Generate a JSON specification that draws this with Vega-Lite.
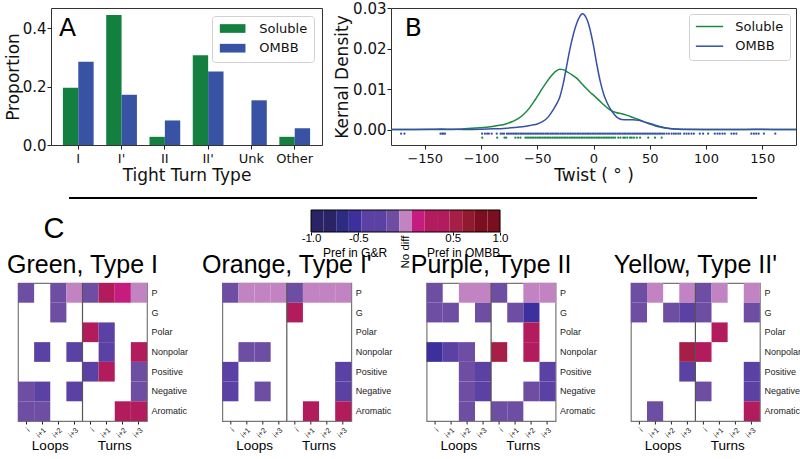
{
 "$schema": "https://vega.github.io/schema/vega-lite/v6.json",
 "background": "white",
 "padding": {"left": 3, "top": 0, "right": 0, "bottom": 0},
 "config": {
  "font": "Liberation Sans",
  "view": {"stroke": null},
  "axis": {"grid": false, "labelColor": "#111", "titleColor": "#111", "tickColor": "#222", "titleFontWeight": "normal", "domain": false},
  "title": {"fontWeight": "normal", "color": "#000"}
 },
 "datasets": {
  "bars": [
   {"type": "I", "group": "Soluble", "proportion": 0.196}, {"type": "I", "group": "OMBB", "proportion": 0.285},
   {"type": "I'", "group": "Soluble", "proportion": 0.445}, {"type": "I'", "group": "OMBB", "proportion": 0.172},
   {"type": "II", "group": "Soluble", "proportion": 0.028}, {"type": "II", "group": "OMBB", "proportion": 0.084},
   {"type": "II'", "group": "Soluble", "proportion": 0.307}, {"type": "II'", "group": "OMBB", "proportion": 0.252},
   {"type": "Unk", "group": "Soluble", "proportion": 0}, {"type": "Unk", "group": "OMBB", "proportion": 0.153},
   {"type": "Other", "group": "Soluble", "proportion": 0.028}, {"type": "Other", "group": "OMBB", "proportion": 0.057}
  ],
  "kde": [
   {"group": "Soluble", "twist": -180, "density": 0}, {"group": "Soluble", "twist": -140, "density": 0},
   {"group": "Soluble", "twist": -125, "density": 0.00005}, {"group": "Soluble", "twist": -115, "density": 0.0002},
   {"group": "Soluble", "twist": -105, "density": 0.0004}, {"group": "Soluble", "twist": -95, "density": 0.0006},
   {"group": "Soluble", "twist": -85, "density": 0.001}, {"group": "Soluble", "twist": -78, "density": 0.0014},
   {"group": "Soluble", "twist": -72, "density": 0.002}, {"group": "Soluble", "twist": -67, "density": 0.0027},
   {"group": "Soluble", "twist": -62, "density": 0.0038}, {"group": "Soluble", "twist": -57, "density": 0.0053},
   {"group": "Soluble", "twist": -52, "density": 0.0073}, {"group": "Soluble", "twist": -47, "density": 0.0095},
   {"group": "Soluble", "twist": -42, "density": 0.0116}, {"group": "Soluble", "twist": -38, "density": 0.0131},
   {"group": "Soluble", "twist": -34, "density": 0.0143}, {"group": "Soluble", "twist": -30, "density": 0.0149},
   {"group": "Soluble", "twist": -27, "density": 0.0148}, {"group": "Soluble", "twist": -23, "density": 0.0142},
   {"group": "Soluble", "twist": -19, "density": 0.0135}, {"group": "Soluble", "twist": -15, "density": 0.0127},
   {"group": "Soluble", "twist": -11, "density": 0.0115}, {"group": "Soluble", "twist": -7, "density": 0.0103},
   {"group": "Soluble", "twist": -3, "density": 0.0092}, {"group": "Soluble", "twist": 0, "density": 0.0085},
   {"group": "Soluble", "twist": 5, "density": 0.0072}, {"group": "Soluble", "twist": 10, "density": 0.0059},
   {"group": "Soluble", "twist": 15, "density": 0.0048}, {"group": "Soluble", "twist": 20, "density": 0.0042},
   {"group": "Soluble", "twist": 25, "density": 0.0039}, {"group": "Soluble", "twist": 30, "density": 0.0035},
   {"group": "Soluble", "twist": 35, "density": 0.003}, {"group": "Soluble", "twist": 40, "density": 0.0025},
   {"group": "Soluble", "twist": 45, "density": 0.0019}, {"group": "Soluble", "twist": 50, "density": 0.0014},
   {"group": "Soluble", "twist": 55, "density": 0.0009}, {"group": "Soluble", "twist": 60, "density": 0.0006},
   {"group": "Soluble", "twist": 67, "density": 0.0003}, {"group": "Soluble", "twist": 75, "density": 0.0001},
   {"group": "Soluble", "twist": 85, "density": 0.00003}, {"group": "Soluble", "twist": 100, "density": 0},
   {"group": "Soluble", "twist": 180, "density": 0},
   {"group": "OMBB", "twist": -180, "density": 0}, {"group": "OMBB", "twist": -160, "density": 0.00002},
   {"group": "OMBB", "twist": -145, "density": 0.00008}, {"group": "OMBB", "twist": -135, "density": 0.00015},
   {"group": "OMBB", "twist": -125, "density": 0.00006}, {"group": "OMBB", "twist": -115, "density": 0.00004},
   {"group": "OMBB", "twist": -100, "density": 0.0001}, {"group": "OMBB", "twist": -90, "density": 0.0002},
   {"group": "OMBB", "twist": -80, "density": 0.0003}, {"group": "OMBB", "twist": -70, "density": 0.0005},
   {"group": "OMBB", "twist": -60, "density": 0.0008}, {"group": "OMBB", "twist": -55, "density": 0.0011},
   {"group": "OMBB", "twist": -50, "density": 0.0014}, {"group": "OMBB", "twist": -45, "density": 0.002},
   {"group": "OMBB", "twist": -40, "density": 0.0032}, {"group": "OMBB", "twist": -36, "density": 0.0048},
   {"group": "OMBB", "twist": -33, "density": 0.0062}, {"group": "OMBB", "twist": -30, "density": 0.008},
   {"group": "OMBB", "twist": -27, "density": 0.0112}, {"group": "OMBB", "twist": -24, "density": 0.0155},
   {"group": "OMBB", "twist": -21, "density": 0.0198}, {"group": "OMBB", "twist": -18, "density": 0.0234},
   {"group": "OMBB", "twist": -15, "density": 0.0262}, {"group": "OMBB", "twist": -12, "density": 0.028},
   {"group": "OMBB", "twist": -10, "density": 0.0286}, {"group": "OMBB", "twist": -8, "density": 0.0283},
   {"group": "OMBB", "twist": -5, "density": 0.0266}, {"group": "OMBB", "twist": -2, "density": 0.0234},
   {"group": "OMBB", "twist": 0, "density": 0.0207}, {"group": "OMBB", "twist": 3, "density": 0.016},
   {"group": "OMBB", "twist": 6, "density": 0.0119}, {"group": "OMBB", "twist": 9, "density": 0.0088},
   {"group": "OMBB", "twist": 12, "density": 0.0067}, {"group": "OMBB", "twist": 15, "density": 0.0051},
   {"group": "OMBB", "twist": 18, "density": 0.0039}, {"group": "OMBB", "twist": 21, "density": 0.003},
   {"group": "OMBB", "twist": 25, "density": 0.0025}, {"group": "OMBB", "twist": 30, "density": 0.0024},
   {"group": "OMBB", "twist": 35, "density": 0.0024}, {"group": "OMBB", "twist": 40, "density": 0.0023},
   {"group": "OMBB", "twist": 45, "density": 0.0019}, {"group": "OMBB", "twist": 50, "density": 0.0015},
   {"group": "OMBB", "twist": 55, "density": 0.0011}, {"group": "OMBB", "twist": 60, "density": 0.0007},
   {"group": "OMBB", "twist": 65, "density": 0.0004}, {"group": "OMBB", "twist": 70, "density": 0.0002},
   {"group": "OMBB", "twist": 80, "density": 0.0001}, {"group": "OMBB", "twist": 100, "density": 0.00005},
   {"group": "OMBB", "twist": 120, "density": 0.00005}, {"group": "OMBB", "twist": 135, "density": 0.00003},
   {"group": "OMBB", "twist": 150, "density": 0.00008}, {"group": "OMBB", "twist": 165, "density": 0.00003},
   {"group": "OMBB", "twist": 180, "density": 0}
  ],
  "rug": [
   {"group": "OMBB", "twist": -171}, {"group": "OMBB", "twist": -168}, {"group": "OMBB", "twist": -136}, {"group": "OMBB", "twist": -134.5},
   {"group": "OMBB", "twist": -133.5}, {"group": "OMBB", "twist": -132}, {"group": "OMBB", "twist": -99}, {"group": "OMBB", "twist": -96.5},
   {"group": "OMBB", "twist": -94.5}, {"group": "OMBB", "twist": -93}, {"group": "OMBB", "twist": -90.5}, {"group": "OMBB", "twist": -86},
   {"group": "OMBB", "twist": -82.5}, {"group": "OMBB", "twist": -81}, {"group": "OMBB", "twist": -79.5}, {"group": "OMBB", "twist": -77},
   {"group": "OMBB", "twist": -75.6}, {"group": "OMBB", "twist": -74.1}, {"group": "OMBB", "twist": -72.5}, {"group": "OMBB", "twist": -71},
   {"group": "OMBB", "twist": -69.6}, {"group": "OMBB", "twist": -68.2}, {"group": "OMBB", "twist": -66.7}, {"group": "OMBB", "twist": -65.1},
   {"group": "OMBB", "twist": -63.6}, {"group": "OMBB", "twist": -62.2}, {"group": "OMBB", "twist": -60.7}, {"group": "OMBB", "twist": -59.1},
   {"group": "OMBB", "twist": -57.6}, {"group": "OMBB", "twist": -56.2}, {"group": "OMBB", "twist": -54.7}, {"group": "OMBB", "twist": -53.1},
   {"group": "OMBB", "twist": -51.6}, {"group": "OMBB", "twist": -50.2}, {"group": "OMBB", "twist": -48.7}, {"group": "OMBB", "twist": -47.2},
   {"group": "OMBB", "twist": -45.8}, {"group": "OMBB", "twist": -44.3}, {"group": "OMBB", "twist": -42.7}, {"group": "OMBB", "twist": -41.3},
   {"group": "OMBB", "twist": -39.8}, {"group": "OMBB", "twist": -38.2}, {"group": "OMBB", "twist": -36.8}, {"group": "OMBB", "twist": -35.3},
   {"group": "OMBB", "twist": -33.8}, {"group": "OMBB", "twist": -32.4}, {"group": "OMBB", "twist": -30.9}, {"group": "OMBB", "twist": -29.3},
   {"group": "OMBB", "twist": -27.8}, {"group": "OMBB", "twist": -26.4}, {"group": "OMBB", "twist": -24.9}, {"group": "OMBB", "twist": -23.3},
   {"group": "OMBB", "twist": -21.9}, {"group": "OMBB", "twist": -20.4}, {"group": "OMBB", "twist": -18.9}, {"group": "OMBB", "twist": -17.4},
   {"group": "OMBB", "twist": -15.9}, {"group": "OMBB", "twist": -14.4}, {"group": "OMBB", "twist": -13}, {"group": "OMBB", "twist": -11.5},
   {"group": "OMBB", "twist": -10}, {"group": "OMBB", "twist": -8.5}, {"group": "OMBB", "twist": -7}, {"group": "OMBB", "twist": -5.6},
   {"group": "OMBB", "twist": -4.1}, {"group": "OMBB", "twist": -2.6}, {"group": "OMBB", "twist": -1.1}, {"group": "OMBB", "twist": 0.4},
   {"group": "OMBB", "twist": 1.9}, {"group": "OMBB", "twist": 3.4}, {"group": "OMBB", "twist": 4.9}, {"group": "OMBB", "twist": 6.4},
   {"group": "OMBB", "twist": 7.8}, {"group": "OMBB", "twist": 9.3}, {"group": "OMBB", "twist": 10.8}, {"group": "OMBB", "twist": 12.3},
   {"group": "OMBB", "twist": 13.8}, {"group": "OMBB", "twist": 15.3}, {"group": "OMBB", "twist": 16.8}, {"group": "OMBB", "twist": 18.2},
   {"group": "OMBB", "twist": 19.7}, {"group": "OMBB", "twist": 21.2}, {"group": "OMBB", "twist": 22.7}, {"group": "OMBB", "twist": 24.2},
   {"group": "OMBB", "twist": 25.7}, {"group": "OMBB", "twist": 27.2}, {"group": "OMBB", "twist": 28.6}, {"group": "OMBB", "twist": 30.1},
   {"group": "OMBB", "twist": 31.6}, {"group": "OMBB", "twist": 33.1}, {"group": "OMBB", "twist": 34.6}, {"group": "OMBB", "twist": 36.1},
   {"group": "OMBB", "twist": 37.6}, {"group": "OMBB", "twist": 39}, {"group": "OMBB", "twist": 40.5}, {"group": "OMBB", "twist": 42},
   {"group": "OMBB", "twist": 43.5}, {"group": "OMBB", "twist": 45}, {"group": "OMBB", "twist": 46.5}, {"group": "OMBB", "twist": 48},
   {"group": "OMBB", "twist": 49.4}, {"group": "OMBB", "twist": 50.9}, {"group": "OMBB", "twist": 52.4}, {"group": "OMBB", "twist": 53.9},
   {"group": "OMBB", "twist": 55.4}, {"group": "OMBB", "twist": 56.9}, {"group": "OMBB", "twist": 58.4}, {"group": "OMBB", "twist": 59.8},
   {"group": "OMBB", "twist": 61.3}, {"group": "OMBB", "twist": 62.8}, {"group": "OMBB", "twist": 65}, {"group": "OMBB", "twist": 67},
   {"group": "OMBB", "twist": 69.4}, {"group": "OMBB", "twist": 71.4}, {"group": "OMBB", "twist": 73.2}, {"group": "OMBB", "twist": 75.3},
   {"group": "OMBB", "twist": 77.1}, {"group": "OMBB", "twist": 80.6}, {"group": "OMBB", "twist": 82.7}, {"group": "OMBB", "twist": 84.7},
   {"group": "OMBB", "twist": 87.1}, {"group": "OMBB", "twist": 89.2}, {"group": "OMBB", "twist": 94.5}, {"group": "OMBB", "twist": 97.4},
   {"group": "OMBB", "twist": 101.9}, {"group": "OMBB", "twist": 107.8}, {"group": "OMBB", "twist": 110.2}, {"group": "OMBB", "twist": 112.2},
   {"group": "OMBB", "twist": 114.6}, {"group": "OMBB", "twist": 116.7}, {"group": "OMBB", "twist": 122.6}, {"group": "OMBB", "twist": 124.8},
   {"group": "OMBB", "twist": 127}, {"group": "OMBB", "twist": 140.3}, {"group": "OMBB", "twist": 142.6}, {"group": "OMBB", "twist": 144.7},
   {"group": "OMBB", "twist": 146.8}, {"group": "OMBB", "twist": 151.5}, {"group": "OMBB", "twist": 161.6},
   {"group": "Soluble", "twist": -98.9}, {"group": "Soluble", "twist": -85.6}, {"group": "Soluble", "twist": -79.1}, {"group": "Soluble", "twist": -77.6},
   {"group": "Soluble", "twist": -69.4}, {"group": "Soluble", "twist": -67}, {"group": "Soluble", "twist": -64.9}, {"group": "Soluble", "twist": -60.5},
   {"group": "Soluble", "twist": -59}, {"group": "Soluble", "twist": -57.4}, {"group": "Soluble", "twist": -55.9}, {"group": "Soluble", "twist": -54.5},
   {"group": "Soluble", "twist": -53}, {"group": "Soluble", "twist": -51.4}, {"group": "Soluble", "twist": -49.9}, {"group": "Soluble", "twist": -48.4},
   {"group": "Soluble", "twist": -47}, {"group": "Soluble", "twist": -45.5}, {"group": "Soluble", "twist": -43.9}, {"group": "Soluble", "twist": -42.4},
   {"group": "Soluble", "twist": -40.9}, {"group": "Soluble", "twist": -39.5}, {"group": "Soluble", "twist": -38}, {"group": "Soluble", "twist": -36.4},
   {"group": "Soluble", "twist": -34.9}, {"group": "Soluble", "twist": -33.4}, {"group": "Soluble", "twist": -32}, {"group": "Soluble", "twist": -30.5},
   {"group": "Soluble", "twist": -28.9}, {"group": "Soluble", "twist": -27.4}, {"group": "Soluble", "twist": -25.9}, {"group": "Soluble", "twist": -24.5},
   {"group": "Soluble", "twist": -23}, {"group": "Soluble", "twist": -21.4}, {"group": "Soluble", "twist": -19.9}, {"group": "Soluble", "twist": -18.4},
   {"group": "Soluble", "twist": -17}, {"group": "Soluble", "twist": -15.5}, {"group": "Soluble", "twist": -13.9}, {"group": "Soluble", "twist": -12.4},
   {"group": "Soluble", "twist": -10.9}, {"group": "Soluble", "twist": -9.5}, {"group": "Soluble", "twist": -8}, {"group": "Soluble", "twist": -6.4},
   {"group": "Soluble", "twist": -4.9}, {"group": "Soluble", "twist": -3.4}, {"group": "Soluble", "twist": -2}, {"group": "Soluble", "twist": -0.5},
   {"group": "Soluble", "twist": 1.1}, {"group": "Soluble", "twist": 2.6}, {"group": "Soluble", "twist": 4.1}, {"group": "Soluble", "twist": 5.5},
   {"group": "Soluble", "twist": 7}, {"group": "Soluble", "twist": 8.6}, {"group": "Soluble", "twist": 10.1}, {"group": "Soluble", "twist": 11.6},
   {"group": "Soluble", "twist": 13}, {"group": "Soluble", "twist": 14.5}, {"group": "Soluble", "twist": 16.1}, {"group": "Soluble", "twist": 17.6},
   {"group": "Soluble", "twist": 19.2}, {"group": "Soluble", "twist": 22}, {"group": "Soluble", "twist": 24}, {"group": "Soluble", "twist": 26.5},
   {"group": "Soluble", "twist": 28}, {"group": "Soluble", "twist": 30}, {"group": "Soluble", "twist": 32.5}, {"group": "Soluble", "twist": 34},
   {"group": "Soluble", "twist": 36}, {"group": "Soluble", "twist": 38.5}, {"group": "Soluble", "twist": 41.4}, {"group": "Soluble", "twist": 48.7},
   {"group": "Soluble", "twist": 54.7}, {"group": "Soluble", "twist": 60.6}
  ],
  "cbar": [
   {"start": -1, "end": -0.8667, "mid": -0.9333}, {"start": -0.8667, "end": -0.7333, "mid": -0.8},
   {"start": -0.7333, "end": -0.6, "mid": -0.6667}, {"start": -0.6, "end": -0.4667, "mid": -0.5333},
   {"start": -0.4667, "end": -0.3333, "mid": -0.4}, {"start": -0.3333, "end": -0.2, "mid": -0.2667},
   {"start": -0.2, "end": -0.0667, "mid": -0.1333}, {"start": -0.0667, "end": 0.0667, "mid": 0},
   {"start": 0.0667, "end": 0.2, "mid": 0.1333}, {"start": 0.2, "end": 0.3333, "mid": 0.2667},
   {"start": 0.3333, "end": 0.4667, "mid": 0.4}, {"start": 0.4667, "end": 0.6, "mid": 0.5333},
   {"start": 0.6, "end": 0.7333, "mid": 0.6667}, {"start": 0.7333, "end": 0.8667, "mid": 0.8},
   {"start": 0.8667, "end": 1, "mid": 0.9333}
  ],
  "heat": [
   {"panel": "Green", "row": "P", "col": "Li", "value": -0.15}, {"panel": "Green", "row": "P", "col": "Li+2", "value": -0.15},
   {"panel": "Green", "row": "P", "col": "Li+3", "value": 0}, {"panel": "Green", "row": "P", "col": "Ti", "value": -0.15},
   {"panel": "Green", "row": "P", "col": "Ti+1", "value": 0.3}, {"panel": "Green", "row": "P", "col": "Ti+2", "value": 0.13},
   {"panel": "Green", "row": "P", "col": "Ti+3", "value": 0}, {"panel": "Green", "row": "G", "col": "Li+2", "value": -0.15},
   {"panel": "Green", "row": "Polar", "col": "Ti", "value": 0.3}, {"panel": "Green", "row": "Polar", "col": "Ti+1", "value": -0.3},
   {"panel": "Green", "row": "Nonpolar", "col": "Li+1", "value": -0.3}, {"panel": "Green", "row": "Nonpolar", "col": "Li+3", "value": -0.3},
   {"panel": "Green", "row": "Nonpolar", "col": "Ti+1", "value": -0.3}, {"panel": "Green", "row": "Nonpolar", "col": "Ti+3", "value": 0.3},
   {"panel": "Green", "row": "Positive", "col": "Ti", "value": -0.3}, {"panel": "Green", "row": "Positive", "col": "Ti+1", "value": 0.3},
   {"panel": "Green", "row": "Positive", "col": "Ti+3", "value": -0.15}, {"panel": "Green", "row": "Negative", "col": "Li", "value": -0.15},
   {"panel": "Green", "row": "Negative", "col": "Li+1", "value": -0.42}, {"panel": "Green", "row": "Negative", "col": "Li+3", "value": -0.3},
   {"panel": "Green", "row": "Negative", "col": "Ti+3", "value": -0.15}, {"panel": "Green", "row": "Aromatic", "col": "Li", "value": -0.15},
   {"panel": "Green", "row": "Aromatic", "col": "Li+1", "value": -0.15}, {"panel": "Green", "row": "Aromatic", "col": "Ti+2", "value": 0.3},
   {"panel": "Green", "row": "Aromatic", "col": "Ti+3", "value": 0.3},
   {"panel": "Orange", "row": "P", "col": "Li", "value": -0.15}, {"panel": "Orange", "row": "P", "col": "Li+1", "value": 0},
   {"panel": "Orange", "row": "P", "col": "Li+2", "value": 0}, {"panel": "Orange", "row": "P", "col": "Li+3", "value": 0},
   {"panel": "Orange", "row": "P", "col": "Ti", "value": -0.15}, {"panel": "Orange", "row": "P", "col": "Ti+1", "value": 0},
   {"panel": "Orange", "row": "P", "col": "Ti+2", "value": 0}, {"panel": "Orange", "row": "P", "col": "Ti+3", "value": 0},
   {"panel": "Orange", "row": "G", "col": "Ti", "value": 0.3}, {"panel": "Orange", "row": "Nonpolar", "col": "Li+1", "value": -0.15},
   {"panel": "Orange", "row": "Nonpolar", "col": "Li+2", "value": -0.15}, {"panel": "Orange", "row": "Positive", "col": "Li", "value": -0.3},
   {"panel": "Orange", "row": "Positive", "col": "Ti+3", "value": -0.3}, {"panel": "Orange", "row": "Negative", "col": "Li", "value": -0.3},
   {"panel": "Orange", "row": "Negative", "col": "Li+2", "value": -0.15}, {"panel": "Orange", "row": "Negative", "col": "Ti+3", "value": -0.3},
   {"panel": "Orange", "row": "Aromatic", "col": "Ti+1", "value": 0.3}, {"panel": "Orange", "row": "Aromatic", "col": "Ti+3", "value": 0.3},
   {"panel": "Purple", "row": "P", "col": "Li", "value": -0.15}, {"panel": "Purple", "row": "P", "col": "Li+2", "value": 0},
   {"panel": "Purple", "row": "P", "col": "Li+3", "value": 0}, {"panel": "Purple", "row": "P", "col": "Ti", "value": -0.15},
   {"panel": "Purple", "row": "P", "col": "Ti+2", "value": 0}, {"panel": "Purple", "row": "P", "col": "Ti+3", "value": 0},
   {"panel": "Purple", "row": "G", "col": "Li", "value": -0.15}, {"panel": "Purple", "row": "G", "col": "Li+1", "value": -0.15},
   {"panel": "Purple", "row": "G", "col": "Li+3", "value": -0.15}, {"panel": "Purple", "row": "G", "col": "Ti+1", "value": -0.15},
   {"panel": "Purple", "row": "G", "col": "Ti+2", "value": -0.55}, {"panel": "Purple", "row": "Polar", "col": "Ti+2", "value": 0.3},
   {"panel": "Purple", "row": "Nonpolar", "col": "Li", "value": -0.55}, {"panel": "Purple", "row": "Nonpolar", "col": "Li+1", "value": -0.42},
   {"panel": "Purple", "row": "Nonpolar", "col": "Li+2", "value": -0.15}, {"panel": "Purple", "row": "Nonpolar", "col": "Ti", "value": 0.55},
   {"panel": "Purple", "row": "Nonpolar", "col": "Ti+2", "value": 0.3}, {"panel": "Purple", "row": "Positive", "col": "Li+2", "value": -0.15},
   {"panel": "Purple", "row": "Positive", "col": "Li+3", "value": -0.3}, {"panel": "Purple", "row": "Positive", "col": "Ti+3", "value": -0.3},
   {"panel": "Purple", "row": "Negative", "col": "Li+2", "value": -0.15}, {"panel": "Purple", "row": "Negative", "col": "Li+3", "value": -0.3},
   {"panel": "Purple", "row": "Negative", "col": "Ti+2", "value": -0.15}, {"panel": "Purple", "row": "Negative", "col": "Ti+3", "value": -0.3},
   {"panel": "Purple", "row": "Aromatic", "col": "Li+2", "value": -0.15}, {"panel": "Purple", "row": "Aromatic", "col": "Ti", "value": -0.15},
   {"panel": "Purple", "row": "Aromatic", "col": "Ti+1", "value": -0.15},
   {"panel": "Yellow", "row": "P", "col": "Li", "value": -0.15}, {"panel": "Yellow", "row": "P", "col": "Li+1", "value": 0},
   {"panel": "Yellow", "row": "P", "col": "Li+3", "value": 0}, {"panel": "Yellow", "row": "P", "col": "Ti", "value": -0.15},
   {"panel": "Yellow", "row": "P", "col": "Ti+1", "value": 0}, {"panel": "Yellow", "row": "P", "col": "Ti+3", "value": 0},
   {"panel": "Yellow", "row": "G", "col": "Li", "value": -0.15}, {"panel": "Yellow", "row": "G", "col": "Li+2", "value": -0.15},
   {"panel": "Yellow", "row": "G", "col": "Li+3", "value": -0.3}, {"panel": "Yellow", "row": "G", "col": "Ti", "value": -0.15},
   {"panel": "Yellow", "row": "G", "col": "Ti+3", "value": -0.15}, {"panel": "Yellow", "row": "Polar", "col": "Ti+1", "value": 0.3},
   {"panel": "Yellow", "row": "Nonpolar", "col": "Li+3", "value": 0.55}, {"panel": "Yellow", "row": "Nonpolar", "col": "Ti", "value": 0.3},
   {"panel": "Yellow", "row": "Positive", "col": "Li+3", "value": -0.3}, {"panel": "Yellow", "row": "Positive", "col": "Ti+3", "value": -0.3},
   {"panel": "Yellow", "row": "Negative", "col": "Ti", "value": -0.15}, {"panel": "Yellow", "row": "Negative", "col": "Ti+3", "value": -0.3},
   {"panel": "Yellow", "row": "Aromatic", "col": "Li+1", "value": -0.15}, {"panel": "Yellow", "row": "Aromatic", "col": "Ti+3", "value": 0.3}
  ],
  "parts": [{"label": "Loops", "anchor": "Li+2"}, {"label": "Turns", "anchor": "Ti+2"}]
 },
 "resolve": {"scale": {"color": "independent"}, "legend": {"color": "independent"}},
 "spacing": -17,
 "align": "none",
 "vconcat": [
  {
   "bounds": "flush",
   "spacing": 32,
   "resolve": {"scale": {"color": "independent"}, "legend": {"color": "independent"}},
   "hconcat": [
    {"width": 1, "height": 1, "data": {"values": []}, "mark": {"type": "point", "opacity": 0}},
    {
     "bounds": "flush",
     "spacing": 69,
     "resolve": {"scale": {"color": "independent"}, "legend": {"color": "independent"}},
     "hconcat": [
      {
       "width": 271, "height": 137,
       "view": {"stroke": "#333", "strokeWidth": 1},
       "layer": [
        {
         "data": {"name": "bars"},
         "mark": {"type": "bar"},
         "encoding": {
          "x": {"field": "type", "type": "nominal", "scale": {"domain": ["I", "I'", "II", "II'", "Unk", "Other"], "paddingInner": 0.29, "paddingOuter": 0.275},
                "axis": {"title": "Tight Turn Type", "labelAngle": 0, "labelFont": "DejaVu Sans", "titleFont": "DejaVu Sans", "labelFontSize": 13, "titleFontSize": 17, "tickSize": 4, "labelPadding": 3, "titlePadding": 2}},
          "xOffset": {"field": "group", "type": "nominal", "scale": {"domain": ["Soluble", "OMBB"], "paddingInner": 0, "paddingOuter": 0}},
          "y": {"field": "proportion", "type": "quantitative", "scale": {"domain": [0, 0.469], "nice": false},
                "axis": {"title": "Proportion", "values": [0, 0.1, 0.2, 0.3, 0.4], "format": ".1f", "labelFont": "DejaVu Sans", "titleFont": "DejaVu Sans", "labelFontSize": 15, "titleFontSize": 17, "tickSize": 4, "labelPadding": 1, "titlePadding": 0}},
          "color": {"field": "group", "type": "nominal", "scale": {"domain": ["Soluble", "OMBB"], "range": ["#138040", "#3953a4"]},
                    "legend": {"title": null, "orient": "top-right", "offset": 8, "labelFont": "DejaVu Sans", "labelFontSize": 13, "labelColor": "#111",
                               "symbolType": "M-1.07,-1H4.82V1H-1.07Z", "symbolSize": 75.7, "symbolStrokeWidth": 0, "labelOffset": 28.3, "rowPadding": 5.7,
                               "padding": 6, "strokeColor": "#d0d0d0", "fillColor": "white", "cornerRadius": 3}}
         }
        },
        {
         "data": {"values": [{"label": "A"}]},
         "mark": {"type": "text", "font": "DejaVu Sans", "fontSize": 25, "align": "left", "baseline": "alphabetic", "dx": -4, "color": "#000"},
         "encoding": {"x": {"datum": "I", "bandPosition": 0}, "y": {"datum": 0.373}, "text": {"field": "label"}}
        }
       ]
      },
      {
       "width": 405, "height": 137,
       "view": {"stroke": "#333", "strokeWidth": 1},
       "layer": [
        {
         "data": {"name": "kde"},
         "mark": {"type": "line", "strokeWidth": 1.5, "interpolate": "monotone", "clip": true},
         "encoding": {
          "x": {"field": "twist", "type": "quantitative", "scale": {"domain": [-180, 180], "nice": false, "zero": false},
                "axis": {"title": "Twist ( ° )", "values": [-150, -100, -50, 0, 50, 100, 150], "labelFont": "DejaVu Sans", "titleFont": "DejaVu Sans", "labelFontSize": 13, "titleFontSize": 17, "tickSize": 4, "labelPadding": 3, "titlePadding": 2, "labelFlush": false}},
          "y": {"field": "density", "type": "quantitative", "scale": {"domain": [-0.0038, 0.03], "nice": false, "zero": false},
                "axis": {"title": "Kernal Density", "values": [0, 0.01, 0.02, 0.03], "format": ".2f", "labelFont": "DejaVu Sans", "titleFont": "DejaVu Sans", "labelFontSize": 15, "titleFontSize": 17, "tickSize": 4, "labelPadding": 1, "titlePadding": 1}},
          "color": {"field": "group", "type": "nominal", "scale": {"domain": ["Soluble", "OMBB"], "range": ["#1a8a40", "#3550a8"]},
                    "legend": {"title": null, "orient": "top-right", "offset": 6, "labelFont": "DejaVu Sans", "labelFontSize": 13, "labelColor": "#111",
                               "symbolType": "M-1.3,0H4.98", "symbolSize": 75.7, "symbolStrokeWidth": 1.5, "labelOffset": 27.3, "rowPadding": 5.7,
                               "padding": 6, "strokeColor": "#d0d0d0", "fillColor": "white", "cornerRadius": 3}}
         }
        },
        {
         "data": {"name": "rug"},
         "transform": [{"filter": "datum.group == 'OMBB'"}],
         "mark": {"type": "point", "filled": true, "size": 5, "color": "#3550a8", "opacity": 1},
         "encoding": {"x": {"field": "twist", "type": "quantitative"}, "y": {"datum": -0.001}}
        },
        {
         "data": {"name": "rug"},
         "transform": [{"filter": "datum.group == 'Soluble'"}],
         "mark": {"type": "point", "filled": true, "size": 5, "color": "#1a8a40", "opacity": 1},
         "encoding": {"x": {"field": "twist", "type": "quantitative"}, "y": {"datum": -0.002}}
        },
        {
         "data": {"values": [{"label": "B"}]},
         "mark": {"type": "text", "font": "DejaVu Sans", "fontSize": 25, "align": "left", "baseline": "alphabetic", "color": "#000"},
         "encoding": {"x": {"datum": -167.7}, "y": {"datum": 0.02317}, "text": {"field": "label"}}
        }
       ]
      }
     ]
    }
   ]
  },
  {
   "width": 778, "height": 65,
   "view": {"stroke": null},
   "layer": [
    {
     "data": {"name": "cbar"},
     "mark": {"type": "rect"},
     "encoding": {
      "x": {"field": "start", "type": "quantitative", "scale": {"domain": [-4.101, 4.132], "nice": false, "zero": false},
            "axis": {"values": [-1, -0.5, 0.5, 1], "labelExpr": "replace(format(datum.value, '.1f'), '\u2212', '-')", "labelFont": "Liberation Sans", "labelFontSize": 11.5, "labelColor": "#000", "tickColor": "#000", "tickSize": 3, "labelPadding": -3, "title": null, "labelFlush": false}},
      "x2": {"field": "end"},
      "y": {"datum": 0, "type": "quantitative", "scale": {"domain": [0, 65], "nice": false, "zero": false}, "axis": null},
      "y2": {"datum": 22},
      "color": {"field": "mid", "type": "quantitative", "legend": null,
                "scale": {"type": "quantize", "domain": [-1, 1], "nice": false, "zero": false,
                          "range": ["#2a2466", "#2a2466", "#2e2c82", "#3d309c", "#5a41a3", "#5a41a3", "#6e4ea3", "#c283c2", "#c61c80", "#b21c5d", "#b21c5d", "#a51f47", "#911a2f", "#7c0f1f", "#7c0f1f"]}}
     }
    },
    {
     "data": {"values": [{}]},
     "mark": {"type": "rect", "fill": null, "stroke": "#000", "strokeWidth": 1},
     "encoding": {"x": {"datum": -1}, "x2": {"datum": 1}, "y": {"datum": 0}, "y2": {"datum": 22}}
    },
    {
     "data": {"values": [{}]},
     "mark": {"type": "rule", "color": "#000", "strokeWidth": 2},
     "encoding": {"x": {"datum": -3.561}, "x2": {"datum": 3.72}, "y": {"datum": 34}}
    },
    {
     "data": {"values": [{"label": "C"}]},
     "mark": {"type": "text", "font": "Liberation Sans", "fontSize": 29, "align": "center", "baseline": "middle", "color": "#000"},
     "encoding": {"x": {"datum": -3.72}, "y": {"datum": 3}, "text": {"field": "label"}}
    },
    {
     "data": {"values": [{"label": "Pref in G&R"}]},
     "mark": {"type": "text", "font": "Liberation Sans", "fontSize": 12, "align": "center", "baseline": "middle", "color": "#000"},
     "encoding": {"x": {"datum": -0.534}, "y": {"datum": -21}, "text": {"field": "label"}}
    },
    {
     "data": {"values": [{"label": "Pref in OMBB"}]},
     "mark": {"type": "text", "font": "Liberation Sans", "fontSize": 12, "align": "center", "baseline": "middle", "color": "#000"},
     "encoding": {"x": {"datum": 0.614}, "y": {"datum": -21}, "text": {"field": "label"}}
    },
    {
     "data": {"values": [{"label": "No diff"}]},
     "mark": {"type": "text", "font": "Liberation Sans", "fontSize": 11.5, "align": "center", "baseline": "middle", "angle": 270, "color": "#000"},
     "encoding": {"x": {"datum": 0}, "y": {"datum": -20}, "text": {"field": "label"}}
    }
   ]
  },
  {
   "bounds": "flush",
   "spacing": 75.3,
   "resolve": {"scale": {"color": "independent"}, "legend": {"color": "independent"}},
   "hconcat": [
    {
     "width": 129, "height": 138,
     "title": {"text": "Green, Type I", "fontSize": 25, "font": "Liberation Sans", "frame": "group", "offset": 4},
     "view": {"stroke": "#777", "strokeWidth": 1.2},
     "layer": [
      {
       "data": {"name": "heat"},
       "transform": [{"filter": "datum.panel == 'Green'"}],
       "mark": {"type": "rect"},
       "encoding": {
        "x": {"field": "col", "type": "ordinal", "scale": {"domain": ["Li", "Li+1", "Li+2", "Li+3", "Ti", "Ti+1", "Ti+2", "Ti+3"], "paddingInner": 0, "paddingOuter": 0},
              "axis": {"title": null, "labelExpr": "substring(datum.label, 1)", "labelAngle": -45, "labelFontSize": 7.5, "labelColor": "#222", "tickSize": 3, "labelPadding": 2}},
        "y": {"field": "row", "type": "ordinal", "scale": {"domain": ["P", "G", "Polar", "Nonpolar", "Positive", "Negative", "Aromatic"], "paddingInner": 0, "paddingOuter": 0},
              "axis": {"title": null, "orient": "right", "ticks": false, "labelFontSize": 9, "labelColor": "#222", "labelPadding": 4}},
        "color": {"field": "value", "type": "quantitative", "legend": null,
                  "scale": {"type": "quantize", "domain": [-1, 1], "nice": false, "zero": false,
                            "range": ["#2a2466", "#2a2466", "#2e2c82", "#3d309c", "#5a41a3", "#5a41a3", "#6e4ea3", "#c283c2", "#c61c80", "#b21c5d", "#b21c5d", "#a51f47", "#911a2f", "#7c0f1f", "#7c0f1f"]}}
       }
      },
      {
       "data": {"values": [{}]},
       "mark": {"type": "rule", "color": "#555", "strokeWidth": 1.2},
       "encoding": {"x": {"datum": "Ti", "bandPosition": 0}}
      },
      {
       "data": {"name": "parts"},
       "mark": {"type": "text", "fontSize": 13.5, "baseline": "alphabetic", "align": "center", "dy": 29, "color": "#000"},
       "encoding": {"x": {"field": "anchor", "type": "ordinal", "bandPosition": 0}, "y": {"datum": "Aromatic", "bandPosition": 1}, "text": {"field": "label"}}
      }
     ]
    },
    {
     "width": 129, "height": 138,
     "title": {"text": "Orange, Type I'", "fontSize": 25, "font": "Liberation Sans", "frame": "group", "offset": 4},
     "view": {"stroke": "#777", "strokeWidth": 1.2},
     "layer": [
      {
       "data": {"name": "heat"},
       "transform": [{"filter": "datum.panel == 'Orange'"}],
       "mark": {"type": "rect"},
       "encoding": {
        "x": {"field": "col", "type": "ordinal", "scale": {"domain": ["Li", "Li+1", "Li+2", "Li+3", "Ti", "Ti+1", "Ti+2", "Ti+3"], "paddingInner": 0, "paddingOuter": 0},
              "axis": {"title": null, "labelExpr": "substring(datum.label, 1)", "labelAngle": -45, "labelFontSize": 7.5, "labelColor": "#222", "tickSize": 3, "labelPadding": 2}},
        "y": {"field": "row", "type": "ordinal", "scale": {"domain": ["P", "G", "Polar", "Nonpolar", "Positive", "Negative", "Aromatic"], "paddingInner": 0, "paddingOuter": 0},
              "axis": {"title": null, "orient": "right", "ticks": false, "labelFontSize": 9, "labelColor": "#222", "labelPadding": 4}},
        "color": {"field": "value", "type": "quantitative", "legend": null,
                  "scale": {"type": "quantize", "domain": [-1, 1], "nice": false, "zero": false,
                            "range": ["#2a2466", "#2a2466", "#2e2c82", "#3d309c", "#5a41a3", "#5a41a3", "#6e4ea3", "#c283c2", "#c61c80", "#b21c5d", "#b21c5d", "#a51f47", "#911a2f", "#7c0f1f", "#7c0f1f"]}}
       }
      },
      {
       "data": {"values": [{}]},
       "mark": {"type": "rule", "color": "#555", "strokeWidth": 1.2},
       "encoding": {"x": {"datum": "Ti", "bandPosition": 0}}
      },
      {
       "data": {"name": "parts"},
       "mark": {"type": "text", "fontSize": 13.5, "baseline": "alphabetic", "align": "center", "dy": 29, "color": "#000"},
       "encoding": {"x": {"field": "anchor", "type": "ordinal", "bandPosition": 0}, "y": {"datum": "Aromatic", "bandPosition": 1}, "text": {"field": "label"}}
      }
     ]
    },
    {
     "width": 129, "height": 138,
     "title": {"text": "Purple, Type II", "fontSize": 25, "font": "Liberation Sans", "frame": "group", "offset": 4},
     "view": {"stroke": "#777", "strokeWidth": 1.2},
     "layer": [
      {
       "data": {"name": "heat"},
       "transform": [{"filter": "datum.panel == 'Purple'"}],
       "mark": {"type": "rect"},
       "encoding": {
        "x": {"field": "col", "type": "ordinal", "scale": {"domain": ["Li", "Li+1", "Li+2", "Li+3", "Ti", "Ti+1", "Ti+2", "Ti+3"], "paddingInner": 0, "paddingOuter": 0},
              "axis": {"title": null, "labelExpr": "substring(datum.label, 1)", "labelAngle": -45, "labelFontSize": 7.5, "labelColor": "#222", "tickSize": 3, "labelPadding": 2}},
        "y": {"field": "row", "type": "ordinal", "scale": {"domain": ["P", "G", "Polar", "Nonpolar", "Positive", "Negative", "Aromatic"], "paddingInner": 0, "paddingOuter": 0},
              "axis": {"title": null, "orient": "right", "ticks": false, "labelFontSize": 9, "labelColor": "#222", "labelPadding": 4}},
        "color": {"field": "value", "type": "quantitative", "legend": null,
                  "scale": {"type": "quantize", "domain": [-1, 1], "nice": false, "zero": false,
                            "range": ["#2a2466", "#2a2466", "#2e2c82", "#3d309c", "#5a41a3", "#5a41a3", "#6e4ea3", "#c283c2", "#c61c80", "#b21c5d", "#b21c5d", "#a51f47", "#911a2f", "#7c0f1f", "#7c0f1f"]}}
       }
      },
      {
       "data": {"values": [{}]},
       "mark": {"type": "rule", "color": "#555", "strokeWidth": 1.2},
       "encoding": {"x": {"datum": "Ti", "bandPosition": 0}}
      },
      {
       "data": {"name": "parts"},
       "mark": {"type": "text", "fontSize": 13.5, "baseline": "alphabetic", "align": "center", "dy": 29, "color": "#000"},
       "encoding": {"x": {"field": "anchor", "type": "ordinal", "bandPosition": 0}, "y": {"datum": "Aromatic", "bandPosition": 1}, "text": {"field": "label"}}
      }
     ]
    },
    {
     "width": 129, "height": 138,
     "title": {"text": "Yellow, Type II'", "fontSize": 25, "font": "Liberation Sans", "frame": "group", "offset": 4},
     "view": {"stroke": "#777", "strokeWidth": 1.2},
     "layer": [
      {
       "data": {"name": "heat"},
       "transform": [{"filter": "datum.panel == 'Yellow'"}],
       "mark": {"type": "rect"},
       "encoding": {
        "x": {"field": "col", "type": "ordinal", "scale": {"domain": ["Li", "Li+1", "Li+2", "Li+3", "Ti", "Ti+1", "Ti+2", "Ti+3"], "paddingInner": 0, "paddingOuter": 0},
              "axis": {"title": null, "labelExpr": "substring(datum.label, 1)", "labelAngle": -45, "labelFontSize": 7.5, "labelColor": "#222", "tickSize": 3, "labelPadding": 2}},
        "y": {"field": "row", "type": "ordinal", "scale": {"domain": ["P", "G", "Polar", "Nonpolar", "Positive", "Negative", "Aromatic"], "paddingInner": 0, "paddingOuter": 0},
              "axis": {"title": null, "orient": "right", "ticks": false, "labelFontSize": 9, "labelColor": "#222", "labelPadding": 4}},
        "color": {"field": "value", "type": "quantitative", "legend": null,
                  "scale": {"type": "quantize", "domain": [-1, 1], "nice": false, "zero": false,
                            "range": ["#2a2466", "#2a2466", "#2e2c82", "#3d309c", "#5a41a3", "#5a41a3", "#6e4ea3", "#c283c2", "#c61c80", "#b21c5d", "#b21c5d", "#a51f47", "#911a2f", "#7c0f1f", "#7c0f1f"]}}
       }
      },
      {
       "data": {"values": [{}]},
       "mark": {"type": "rule", "color": "#555", "strokeWidth": 1.2},
       "encoding": {"x": {"datum": "Ti", "bandPosition": 0}}
      },
      {
       "data": {"name": "parts"},
       "mark": {"type": "text", "fontSize": 13.5, "baseline": "alphabetic", "align": "center", "dy": 29, "color": "#000"},
       "encoding": {"x": {"field": "anchor", "type": "ordinal", "bandPosition": 0}, "y": {"datum": "Aromatic", "bandPosition": 1}, "text": {"field": "label"}}
      }
     ]
    }
   ]
  }
 ]
}
